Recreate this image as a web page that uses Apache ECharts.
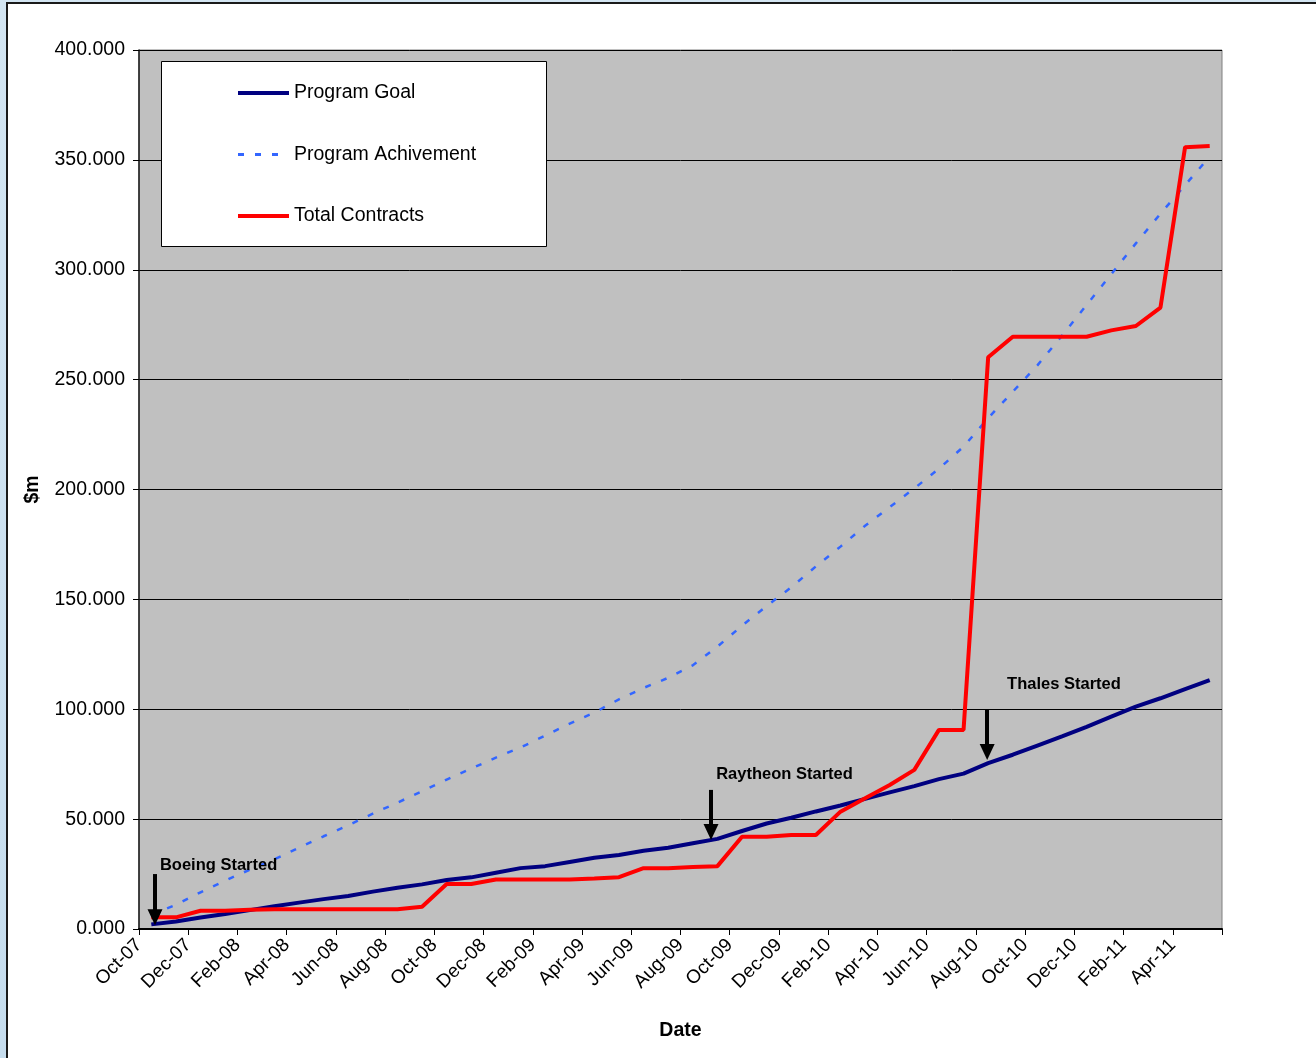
<!DOCTYPE html>
<html>
<head>
<meta charset="utf-8">
<script src="https://cdn.jsdelivr.net/npm/echarts@6/dist/echarts.min.js"></script>
<style>
  html, body { margin: 0; padding: 0; }
  body { width: 1316px; height: 1058px; background: linear-gradient(180deg, #d3e5f2, #c6ddee); position: relative; overflow: hidden; }
  #frame { position: absolute; left: 6px; top: 2px; width: 1320px; height: 1070px; background: #ffffff; border-left: 2px solid #1a1a1a; border-top: 2px solid #1a1a1a; }
  #chart { position: absolute; left: 0; top: 0; width: 1316px; height: 1058px; }
</style>
</head>
<body>
<div id="frame"></div>
<div id="chart"></div>
<script>
// Monthly categories (Oct-07 .. May-11)
const months = ['Oct-07','Nov-07','Dec-07','Jan-08','Feb-08','Mar-08','Apr-08','May-08','Jun-08','Jul-08','Aug-08','Sep-08',
  'Oct-08','Nov-08','Dec-08','Jan-09','Feb-09','Mar-09','Apr-09','May-09','Jun-09','Jul-09','Aug-09','Sep-09',
  'Oct-09','Nov-09','Dec-09','Jan-10','Feb-10','Mar-10','Apr-10','May-10','Jun-10','Jul-10','Aug-10','Sep-10',
  'Oct-10','Nov-10','Dec-10','Jan-11','Feb-11','Mar-11','Apr-11','May-11'];

// Series values ($m)
const programGoal = [2.1,3.4,5.2,6.8,8.6,10.4,12.0,13.6,15.0,17.0,18.8,20.3,
  22.3,23.5,25.6,27.7,28.6,30.5,32.4,33.7,35.6,37.0,39.0,41.0,
  44.6,48.0,50.6,53.5,56.2,59.2,62.2,65.0,68.2,70.7,75.5,79.3,
  83.5,87.7,92.0,96.6,101.2,105.0,109.2,113.3];
const programAchievement = [6.5,11.0,16.7,22.0,27.0,31.7,37.0,42.2,47.2,52.5,57.5,62.7,
  68.0,73.0,78.0,82.6,88.0,93.5,98.5,104.5,109.7,114.3,120.0,128.5,
  138.0,147.0,155.5,165.0,174.0,183.5,192.0,200.5,209.5,219.5,232.5,244.5,
  256.5,270.0,284.0,298.0,312.0,325.5,338.5,351.5];
const totalContracts = [5.3,5.3,8.3,8.3,8.8,9.0,9.0,9.0,9.0,9.0,9.0,10.1,
  20.5,20.5,22.5,22.5,22.5,22.5,23.0,23.6,27.7,27.7,28.2,28.6,
  42.0,42.0,42.8,42.8,53.4,59.5,65.5,72.4,90.6,90.6,260.2,269.5,
  269.5,269.5,269.5,272.4,274.4,282.8,355.8,356.3];

// Annotations (month index units / $m)
const annotations = [
  { text: 'Boeing Started',   x: 0.65,  from: 25.0, to: 5.4,  labelX: 0.85,  labelY: 28.7 },
  { text: 'Raytheon Started', x: 23.24, from: 63.3, to: 44.1, labelX: 23.45, labelY: 70.5 },
  { text: 'Thales Started',   x: 34.46, from: 99.7, to: 80.5, labelX: 35.27, labelY: 111.5 }
];

const FONT = "'Liberation Sans', Arial, sans-serif";
const toPts = arr => arr.map((v, i) => [i + 0.5, v]);

const chart = echarts.init(document.getElementById('chart'), null, { renderer: 'canvas' });
chart.setOption({
  backgroundColor: 'transparent',
  animation: false,
  textStyle: { fontFamily: FONT },
  grid: {
    left: 139, top: 50, width: 1083, height: 879,
    show: true, backgroundColor: '#c0c0c0', borderColor: '#808080', borderWidth: 1
  },
  graphic: [{
    type: 'rect', left: 161, top: 61, z: 3,
    shape: { width: 385, height: 185 },
    style: { fill: '#ffffff', stroke: '#000000', lineWidth: 1 }
  }],
  legend: {
    orient: 'vertical', left: 236, top: 83, padding: 0, z: 4,
    itemWidth: 51, itemHeight: 14, itemGap: 41.5,
    itemStyle: { opacity: 0 },
    data: [
      { name: 'Program Goal', lineStyle: { width: 4 } },
      { name: 'Program Achivement', lineStyle: { width: 3 } },
      { name: 'Total Contracts', lineStyle: { width: 4 } }
    ],
    textStyle: { fontFamily: FONT, fontSize: 19.5, color: '#000', padding: [0, 0, 0, 0] },
    selectedMode: false
  },
  xAxis: {
    type: 'value', min: 0, max: months.length, interval: 2,
    name: 'Date', nameLocation: 'middle', nameGap: 92,
    nameTextStyle: { fontFamily: FONT, fontSize: 19.5, fontWeight: 'bold', color: '#000' },
    axisLine: { show: true, lineStyle: { color: '#000', width: 2 } },
    axisTick: { show: true, length: 6, lineStyle: { color: '#000', width: 1 } },
    axisLabel: {
      rotate: 45, margin: 13, fontFamily: FONT, fontSize: 19, color: '#000',
      showMaxLabel: true,
      formatter: v => (v < months.length && v % 2 === 0) ? months[v] : ''
    },
    splitLine: { show: false }
  },
  yAxis: {
    type: 'value', min: 0, max: 400, interval: 50,
    name: '$m', nameLocation: 'middle', nameGap: 96, nameRotate: 90,
    nameTextStyle: { fontFamily: FONT, fontSize: 19.5, fontWeight: 'bold', color: '#000' },
    axisLine: { show: true, lineStyle: { color: '#1a1a1a', width: 1.5 } },
    axisTick: { show: true, length: 6, lineStyle: { color: '#000', width: 1 } },
    axisLabel: { margin: 14, padding: [3, 0, 0, 0], fontFamily: FONT, fontSize: 19.5, color: '#000', formatter: v => v.toFixed(3) },
    splitLine: { show: true, lineStyle: { color: '#000', width: 1 } }
  },
  series: [
    {
      name: 'Program Goal', type: 'line', data: toPts(programGoal),
      symbol: 'none', z: 2,
      lineStyle: { color: '#000080', width: 4 }, itemStyle: { color: '#000080' },
      markLine: {
        silent: true, symbol: ['none', 'triangle'], symbolSize: [15, 16],
        lineStyle: { color: '#000', width: 4, type: 'solid' },
        itemStyle: { color: '#000' },
        label: { show: false },
        emphasis: { disabled: true },
        data: annotations.map(a => [
          { coord: [a.x, a.from] },
          { coord: [a.x, a.to] }
        ])
      },
      markPoint: {
        silent: true, symbol: 'circle', symbolSize: 0,
        data: annotations.map(a => ({
          coord: [a.labelX, a.labelY],
          label: {
            show: true, position: 'right', distance: 0, formatter: a.text,
            fontFamily: FONT, fontSize: 16.5, fontWeight: 'bold', color: '#000'
          }
        }))
      }
    },
    {
      name: 'Program Achivement', type: 'line', data: toPts(programAchievement),
      symbol: 'none', z: 2,
      lineStyle: { color: '#3366ff', width: 2.5, type: [6, 11] }, itemStyle: { color: '#3366ff' }
    },
    {
      name: 'Total Contracts', type: 'line', data: toPts(totalContracts),
      symbol: 'none', z: 2,
      lineStyle: { color: '#ff0000', width: 4 }, itemStyle: { color: '#ff0000' }
    }
  ]
});
</script>
</body>
</html>
